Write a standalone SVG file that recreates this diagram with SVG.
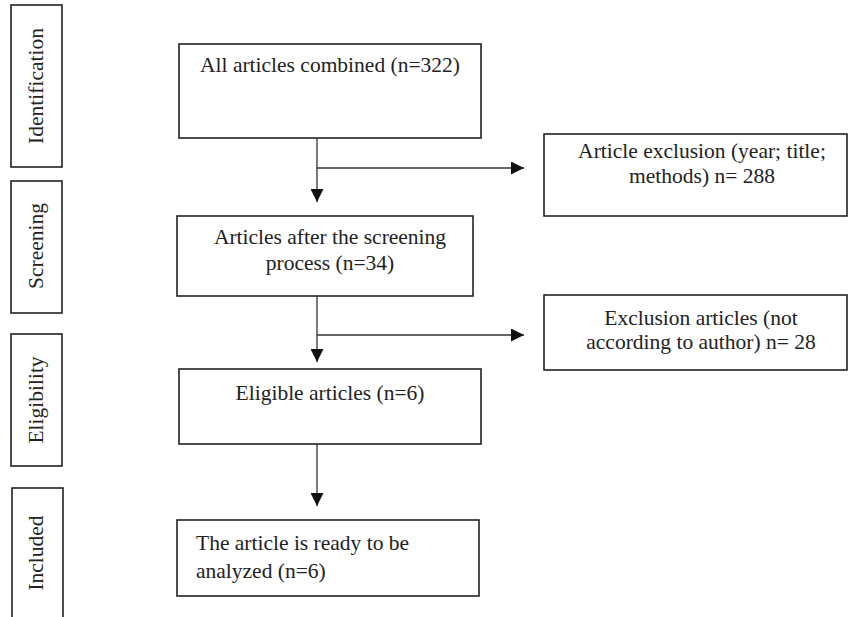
<svg xmlns="http://www.w3.org/2000/svg" width="848" height="617" viewBox="0 0 848 617">
<style>
.box{fill:#fff;stroke:#222;stroke-width:1.6}
.t{font-family:"Liberation Serif","Times New Roman",serif;font-size:21.5px;fill:#222}
.c{text-anchor:middle}
.ln{stroke:#333;stroke-width:1.3;fill:none}
</style>
<defs>
<marker id="ah" markerWidth="13" markerHeight="13" refX="13" refY="6.5" orient="auto" markerUnits="userSpaceOnUse">
<path d="M0,0 L13,6.5 L0,13 Z" fill="#111"/>
</marker>
</defs>
<rect width="848" height="617" fill="#fff"/>
<g id="stage-identification">
<rect class="box" x="11" y="5" width="51" height="162"/>
<text class="t c" transform="translate(43,86) rotate(-90)">Identification</text>
</g>
<g id="stage-screening">
<rect class="box" x="11" y="181" width="51" height="132"/>
<text class="t c" transform="translate(43,246) rotate(-90)">Screening</text>
</g>
<g id="stage-eligibility">
<rect class="box" x="11" y="334" width="51" height="132"/>
<text class="t c" transform="translate(43,400) rotate(-90)">Eligibility</text>
</g>
<g id="stage-included">
<rect class="box" x="12" y="488" width="51" height="140"/>
<text class="t c" transform="translate(43,553) rotate(-90)">Included</text>
</g>
<g id="n1">
<rect class="box" x="179" y="44" width="302" height="94"/>
<text class="t c" x="330" y="72">All articles combined (n=322)</text>
</g>
<g id="n2">
<rect class="box" x="177" y="216" width="296" height="80"/>
<text class="t c" x="330" y="244">Articles after the screening</text>
<text class="t c" x="330" y="270">process (n=34)</text>
</g>
<g id="n3">
<rect class="box" x="544" y="134" width="303" height="82"/>
<text class="t c" x="702" y="158">Article exclusion (year; title;</text>
<text class="t c" x="702" y="183">methods) n= 288</text>
</g>
<g id="n4">
<rect class="box" x="544" y="295" width="303" height="75"/>
<text class="t c" x="701" y="325">Exclusion articles (not</text>
<text class="t c" x="701" y="349">according to author) n= 28</text>
</g>
<g id="n5">
<rect class="box" x="179" y="369" width="302" height="75"/>
<text class="t c" x="330" y="400">Eligible articles (n=6)</text>
</g>
<g id="n6">
<rect class="box" x="177" y="520" width="302" height="76"/>
<text class="t" x="196" y="550">The article is ready to be</text>
<text class="t" x="196" y="578">analyzed (n=6)</text>
</g>
<g id="connectors">
<line class="ln" x1="317" y1="138" x2="317" y2="202" marker-end="url(#ah)"/>
<line class="ln" x1="317" y1="168" x2="524" y2="168" marker-end="url(#ah)"/>
<line class="ln" x1="317" y1="296" x2="317" y2="362" marker-end="url(#ah)"/>
<line class="ln" x1="317" y1="335" x2="524" y2="335" marker-end="url(#ah)"/>
<line class="ln" x1="317" y1="444" x2="317" y2="506" marker-end="url(#ah)"/>
</g>
</svg>
